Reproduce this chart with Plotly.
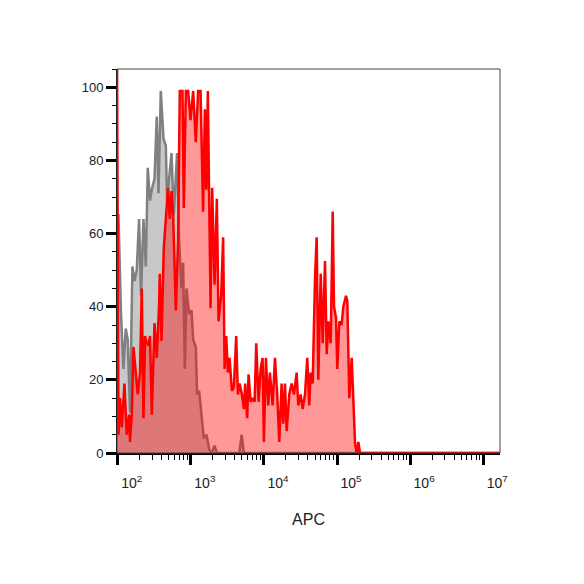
'''
    Flow cytometry overlay histogram: isotype control (grey) vs stained sample (red), APC channel.
'''
import plotly.graph_objects as go

# log10 of APC intensity for each histogram bin, with % of mode
grey_log_apc = [1.99, 2.010, 2.045, 2.078, 2.110, 2.137, 2.168, 2.201, 2.229, 2.260,
                2.292, 2.319, 2.352, 2.384, 2.411, 2.442, 2.466, 2.503, 2.534, 2.558,
                2.589, 2.626, 2.658, 2.675, 2.703, 2.736, 2.767, 2.812, 2.840, 2.873,
                2.895, 2.918, 2.941, 2.977, 3.010, 3.032, 3.068, 3.086, 3.114, 3.147,
                3.178, 3.215, 3.251, 3.284, 3.325, 3.356, 3.664, 3.695, 3.726, 7.3]
grey_pct = [65, 65, 38, 23, 34, 31, 11, 51, 47, 50,
            64, 43, 64, 51, 78, 69, 72, 75, 92, 71,
            99, 86, 84, 69, 75, 82, 65, 82, 58, 45,
            52, 23, 45, 38, 39, 31, 29, 16, 17, 11,
            4, 5, 1, 0, 2, 0, 0, 5, 0, 0]

red_log_apc = [1.99, 2.010, 2.032, 2.055, 2.092, 2.123, 2.155, 2.168, 2.192, 2.215,
               2.247, 2.274, 2.305, 2.329, 2.352, 2.374, 2.397, 2.421, 2.442, 2.466,
               2.503, 2.534, 2.566, 2.575, 2.599, 2.630, 2.658, 2.689, 2.712, 2.736,
               2.758, 2.795, 2.826, 2.849, 2.886, 2.904, 2.932, 2.963, 2.996, 3.032,
               3.068, 3.100, 3.133, 3.168, 3.192, 3.212, 3.233, 3.270, 3.292, 3.325,
               3.356, 3.379, 3.415, 3.442, 3.462, 3.484, 3.507, 3.530, 3.562, 3.589,
               3.621, 3.644, 3.667, 3.699, 3.726, 3.744, 3.771, 3.790, 3.818, 3.849,
               3.873, 3.895, 3.927, 3.955, 3.982, 4.000, 4.027, 4.059, 4.082, 4.119,
               4.151, 4.182, 4.210, 4.242, 4.264, 4.288, 4.311, 4.347, 4.379, 4.411,
               4.448, 4.470, 4.503, 4.530, 4.562, 4.593, 4.621, 4.640, 4.667, 4.699,
               4.722, 4.744, 4.777, 4.804, 4.836, 4.859, 4.881, 4.914, 4.941, 4.959,
               4.986, 5.004, 5.032, 5.064, 5.086, 5.123, 5.141, 5.168, 5.201, 5.223,
               5.247, 5.270, 5.292, 5.315, 7.3]
red_pct = [110, 5, 15, 7, 19, 5, 10.5, 3, 10.5, 29,
           22, 16, 22, 45, 9.5, 32, 30, 29.6, 32, 10.5,
           35.5, 26, 40.6, 49, 30.6, 56, 64, 72.5, 64, 71.6,
           65, 39, 58, 99, 99, 67, 99, 99, 91, 99,
           85, 99, 99, 66, 94, 72, 99, 39.6, 72.5, 46,
           69.5, 36, 43, 59, 23, 32, 22, 26, 17, 18,
           32, 16, 19, 16, 12, 19, 9.5, 21.5, 14, 15,
           14, 30, 14, 23, 26, 3, 26, 13, 22, 13,
           26, 16, 3, 19, 8, 19, 6, 16, 19, 16,
           22, 13, 16, 12, 16, 26, 13, 22, 19, 48,
           59, 20, 49, 30, 52.5, 27, 36, 30, 66, 40,
           37, 23, 36, 35, 40, 43, 41.5, 15, 26, 15,
           2.5, 0, 3, 0, 0]

decades = [2, 3, 4, 5, 6, 7]
decade_labels = ['10<sup>2</sup>', '10<sup>3</sup>', '10<sup>4</sup>',
                 '10<sup>5</sup>', '10<sup>6</sup>', '10<sup>7</sup>']
y_ticks = [0, 20, 40, 60, 80, 100]

fig = go.Figure()

# controle isotypique en gris, dessine en premier
fig.add_trace(go.Scatter(
    x=[10 ** v for v in grey_log_apc], y=grey_pct,
    mode='lines', fill='tozeroy',
    line=dict(color='#808080', width=2.5),
    fillcolor='#c8c8c8',
    showlegend=False
))

# echantillon marque, rouge translucide par-dessus
fig.add_trace(go.Scatter(
    x=[10 ** v for v in red_log_apc], y=red_pct,
    mode='lines', fill='tozeroy',
    line=dict(color='#ff0000', width=2.5),
    fillcolor='rgba(255,0,0,0.4)',
    showlegend=False
))

# cadre fin autour de la zone de trace
fig.add_shape(
    type='rect', xref='paper', yref='paper',
    x0=0, y0=0, x1=1, y1=1,
    line=dict(color='#444444', width=1),
    layer='above'
)

fig.update_xaxes(
    type='log', range=[1.99, 7.23],
    tickvals=[10 ** d for d in decades], ticktext=decade_labels,
    ticks='outside', ticklen=10, tickwidth=3, tickcolor='black',
    ticklabelshift=14, ticklabelstandoff=6,
    minor=dict(ticks='outside', ticklen=5, tickwidth=1, tickcolor='black', dtick='D1'),
    showline=True, linecolor='black', linewidth=2,
    showgrid=False, zeroline=False,
    title=dict(text='APC', font=dict(size=16, color='#222222'), standoff=24),
    tickfont=dict(size=14, color='#222222')
)

fig.update_yaxes(
    range=[0, 105],
    tickvals=y_ticks,
    ticks='outside', ticklen=10, tickwidth=3, tickcolor='black',
    minor=dict(ticks='outside', ticklen=4, tickwidth=1, tickcolor='black', dtick=5),
    showline=True, linecolor='black', linewidth=1,
    showgrid=False, zeroline=False,
    tickfont=dict(size=13, color='#222222')
)

# la page ajoute 8px de marge au body, on compense ici
fig.update_layout(
    width=584, height=584,
    margin=dict(l=109, r=92, t=61, b=139),
    paper_bgcolor='white', plot_bgcolor='white',
    font=dict(family='Liberation Sans, Arial, sans-serif'),
    dragmode=False
)

fig.write_html('out.html')
